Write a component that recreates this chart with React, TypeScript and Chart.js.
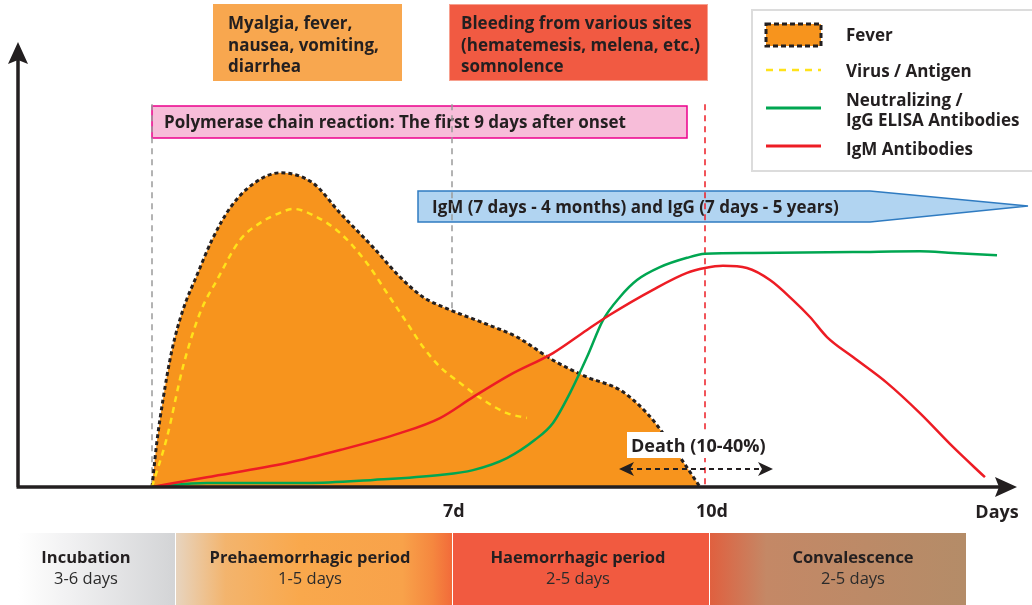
import React, { useEffect, useRef } from "react";
import { Chart, registerables } from "chart.js";

Chart.register(...registerables);

// ---------- DATA ----------
const feverDay = [3.443, 3.5, 3.573, 3.68, 3.81, 3.976, 4.154, 4.368, 4.628, 4.96, 5.352, 5.672, 6.063, 6.383, 6.656, 6.976, 7.368, 7.771, 8.198, 8.601, 8.992, 9.312, 9.502, 9.704, 9.941];
const feverLevel = [0, 10.0, 19.6, 30.8, 39.8, 47.6, 55.5, 62.7, 67.9, 70.6, 68.3, 61.6, 53.9, 47.2, 42.7, 39.8, 36.9, 33.7, 28.5, 24.7, 21.8, 16.6, 12.1, 6.7, 0];

const virusDay = [3.443, 3.621, 3.81, 4.012, 4.213, 4.486, 4.723, 4.96, 5.115, 5.352, 5.672, 5.992, 6.229, 6.466, 6.656, 6.858, 7.095, 7.368, 7.652, 7.889];
const virusLevel = [0, 11.2, 27.0, 39.1, 46.5, 55.5, 59.3, 61.6, 62.5, 61.1, 57.1, 50.3, 43.6, 36.9, 31.5, 27.0, 23.4, 19.6, 16.6, 15.5];

const iggDay = [3.443, 4.095, 5.281, 6.063, 6.858, 7.249, 7.652, 7.984, 8.198, 8.399, 8.601, 8.791, 8.992, 9.194, 9.466, 9.787, 10.0, 10.569, 11.755, 12.549, 12.941, 13.463];
const iggLevel = [0, 0.9, 0.9, 1.6, 2.7, 3.8, 6.5, 10.6, 14.4, 21.1, 29.2, 37.5, 42.7, 46.5, 49.4, 51.5, 52.4, 52.6, 52.8, 53.0, 52.6, 52.1];

const igmDay = [3.443, 4.095, 5.043, 5.672, 6.383, 6.858, 7.249, 7.688, 8.198, 8.601, 8.874, 9.383, 9.787, 10.0, 10.213, 10.498, 10.771, 11.044, 11.245, 11.447, 11.755, 12.158, 12.549, 12.941, 13.32];
const igmLevel = [0, 2.2, 5.4, 8.3, 12.1, 15.5, 20.2, 25.2, 30.1, 35.3, 38.7, 44.3, 48.1, 49.2, 49.7, 49.2, 46.5, 42.0, 38.2, 33.7, 29.2, 23.4, 16.6, 9.0, 2.2];

const seriesNames = ["Fever", "Virus / Antigen", "Neutralizing / IgG ELISA Antibodies", "IgM Antibodies"];
const legendLines = [["Fever"], ["Virus / Antigen"], ["Neutralizing /", "IgG ELISA Antibodies"], ["IgM Antibodies"]];

const tickDays = [7, 10];
const tickLabels = ["7d", "10d"];
const axisTitle = "Days";
const onsetDay = 3.443;
const grayMarkerDays = [onsetDay, 7];
const redMarkerDays = [10];

const symptomsEarly = ["Myalgia, fever,", "nausea, vomiting,", "diarrhea"];
const symptomsLate = ["Bleeding from various sites", "(hematemesis, melena, etc.)", "somnolence"];
const pcrText = "Polymerase chain reaction: The first 9 days after onset";
const bannerText = "IgM (7 days - 4 months) and IgG (7 days - 5 years)";
const deathText = "Death (10-40%)";

const phaseNames = ["Incubation", "Prehaemorrhagic period", "Haemorrhagic period", "Convalescence"];
const phaseDurations = ["3-6 days", "1-5 days", "2-5 days", "2-5 days"];

// ---------- STYLE ----------
const INK = "#231f20";
const ORANGE = "#f7941d";
const YELLOW = "#ffe21a";
const GREEN = "#00a651";
const RED = "#ed1c24";
const FONT = "'Open Sans', 'Noto Sans', sans-serif";

function txt(ctx: CanvasRenderingContext2D, s: string, x: number, y: number, size: number, weight: string | number = "bold", align: CanvasTextAlign = "left", color = INK) {
  ctx.font = `${weight} ${size}px ${FONT}`;
  ctx.fillStyle = color;
  ctx.textAlign = align;
  ctx.textBaseline = "alphabetic";
  ctx.fillText(s, x, y);
}

const pts = (xs: number[], ys: number[]) => xs.map((d, i) => ({ x: d, y: ys[i] }));

const diagramPlugin = {
  id: "diagram",
  beforeDraw(chart: any) {
    const ctx = chart.ctx as CanvasRenderingContext2D;
    ctx.save();
    ctx.fillStyle = "#ffffff";
    ctx.fillRect(0, 0, chart.width, chart.height);
    ctx.restore();
  },
  beforeDatasetsDraw(chart: any) {
    const ctx = chart.ctx as CanvasRenderingContext2D;
    const xs = chart.scales.x;
    const ys = chart.scales.y;
    const B = chart.chartArea.bottom;
    ctx.save();

    // symptom boxes
    ctx.fillStyle = "#f8a74f";
    ctx.fillRect(213, 4, 189, 77);
    symptomsEarly.forEach((s, i) => txt(ctx, s, 228, 29 + i * 21.5, 17));
    ctx.fillStyle = "#f15a42";
    ctx.fillRect(449, 4, 259, 77);
    ctx.strokeStyle = "#f7a08f";
    ctx.lineWidth = 1;
    ctx.strokeRect(449.5, 4.5, 258, 76);
    symptomsLate.forEach((s, i) => txt(ctx, s, 461, 29 + i * 21.5, 17));

    // PCR box
    ctx.fillStyle = "#f7bdd9";
    ctx.fillRect(152, 106, 535, 32);
    ctx.strokeStyle = "#ec008c";
    ctx.lineWidth = 1.5;
    ctx.strokeRect(152, 106, 535, 32);
    txt(ctx, pcrText, 164, 128, 17);

    // IgM / IgG banner
    ctx.beginPath();
    ctx.moveTo(418, 191);
    ctx.lineTo(870, 191);
    ctx.lineTo(1028, 206);
    ctx.lineTo(870, 222);
    ctx.lineTo(418, 222);
    ctx.closePath();
    ctx.fillStyle = "#b1d4f1";
    ctx.fill();
    ctx.strokeStyle = "#2f7bc1";
    ctx.lineWidth = 1.5;
    ctx.stroke();
    txt(ctx, bannerText, 432, 213, 17);

    // bottom phase band
    const top = 533, h = 72;
    const panels = [
      [18, 175, 86, [[0, "#ffffff"], [0.3, "#f2f2f3"], [1, "#d3d4d6"]]],
      [176, 452, 310, [[0, "#e7d4bf"], [0.18, "#f3b46d"], [0.45, "#f9a84c"], [0.82, "#f8a24a"], [0.93, "#f5873f"], [1, "#f26b3a"]]],
      [453, 709, 578, [[0, "#f15a40"], [1, "#f15a40"]]],
      [710, 966, 853, [[0, "#e0603f"], [0.22, "#c48866"], [1, "#b48c68"]]],
    ] as any[];
    panels.forEach(([a, b, cx, stops]: any, i: number) => {
      const g = ctx.createLinearGradient(a, 0, b, 0);
      stops.forEach(([o, c]: any) => g.addColorStop(o, c));
      ctx.fillStyle = g;
      ctx.fillRect(a, top, b - a, h);
      txt(ctx, phaseNames[i], cx, 563, 16.5, "bold", "center");
      txt(ctx, phaseDurations[i], cx, 584, 16.5, "normal", "center", "#2b2b2b");
    });

    // vertical markers
    const yTop = ys.getPixelForValue(86);
    ctx.lineWidth = 1.5;
    ctx.setLineDash([6, 5]);
    ctx.strokeStyle = "#9a9a9a";
    grayMarkerDays.forEach((d) => {
      const px = Math.round(xs.getPixelForValue(d));
      ctx.beginPath();
      ctx.moveTo(px, yTop);
      ctx.lineTo(px, B);
      ctx.stroke();
    });
    ctx.strokeStyle = RED;
    redMarkerDays.forEach((d) => {
      const px = Math.round(xs.getPixelForValue(d));
      ctx.beginPath();
      ctx.moveTo(px, yTop);
      ctx.lineTo(px, B);
      ctx.stroke();
    });
    ctx.setLineDash([]);
    ctx.restore();
  },
  afterDatasetsDraw(chart: any) {
    const ctx = chart.ctx as CanvasRenderingContext2D;
    const xs = chart.scales.x;
    const { left: L, bottom: B, top: T, right: R } = chart.chartArea;
    ctx.save();

    // axes
    ctx.strokeStyle = INK;
    ctx.fillStyle = INK;
    ctx.lineWidth = 3.5;
    ctx.beginPath();
    ctx.moveTo(L, B);
    ctx.lineTo(L, T + 18);
    ctx.moveTo(L - 1.5, B);
    ctx.lineTo(R - 18, B);
    ctx.stroke();
    ctx.beginPath();
    ctx.moveTo(L, T);
    ctx.lineTo(L + 10, T + 22);
    ctx.lineTo(L, T + 18);
    ctx.lineTo(L - 10, T + 22);
    ctx.closePath();
    ctx.fill();
    ctx.beginPath();
    ctx.moveTo(R, B);
    ctx.lineTo(R - 22, B - 10);
    ctx.lineTo(R - 18, B);
    ctx.lineTo(R - 22, B + 10);
    ctx.closePath();
    ctx.fill();

    // tick labels
    tickDays.forEach((d, i) => {
      txt(ctx, tickLabels[i], xs.getPixelForValue(d) - 9, 517, 18, "bold", "left");
    });
    txt(ctx, axisTitle, 997, 518, 18, "bold", "center");

    // death label + arrow
    ctx.fillStyle = "#ffffff";
    ctx.fillRect(627, 432, 142, 26);
    txt(ctx, deathText, 631, 452, 18, "bold", "left");
    ctx.strokeStyle = INK;
    ctx.lineWidth = 2;
    ctx.setLineDash([5, 4]);
    ctx.beginPath();
    ctx.moveTo(628, 469);
    ctx.lineTo(764, 469);
    ctx.stroke();
    ctx.setLineDash([]);
    ctx.fillStyle = INK;
    const head = (tip: number, dir: number) => {
      ctx.beginPath();
      ctx.moveTo(tip, 469);
      ctx.lineTo(tip + dir * 15, 462);
      ctx.lineTo(tip + dir * 11, 469);
      ctx.lineTo(tip + dir * 15, 476);
      ctx.closePath();
      ctx.fill();
    };
    head(619, 1);
    head(773, -1);

    // legend
    ctx.strokeStyle = "#dcdcdc";
    ctx.lineWidth = 2;
    ctx.fillStyle = "#ffffff";
    ctx.fillRect(752, 10, 290, 161);
    ctx.strokeRect(752, 10, 290, 161);

    ctx.fillStyle = ORANGE;
    ctx.fillRect(766, 24, 55, 22);
    ctx.strokeStyle = INK;
    ctx.lineWidth = 3;
    ctx.setLineDash([5, 3]);
    ctx.strokeRect(766, 24, 55, 22);

    ctx.strokeStyle = YELLOW;
    ctx.lineWidth = 2.5;
    ctx.setLineDash([7, 6]);
    ctx.beginPath();
    ctx.moveTo(766, 70);
    ctx.lineTo(821, 70);
    ctx.stroke();
    ctx.setLineDash([]);

    ctx.lineWidth = 3;
    ctx.strokeStyle = GREEN;
    ctx.beginPath();
    ctx.moveTo(766, 108);
    ctx.lineTo(821, 108);
    ctx.stroke();
    ctx.strokeStyle = RED;
    ctx.beginPath();
    ctx.moveTo(766, 146);
    ctx.lineTo(821, 146);
    ctx.stroke();

    const baselines = [[41], [77], [106, 126], [155]];
    legendLines.forEach((lines, i) => {
      lines.forEach((s, j) => txt(ctx, s, 846, baselines[i][j], 17));
    });
    ctx.restore();
  },
};

export default function App() {
  const ref = useRef<HTMLCanvasElement>(null);
  useEffect(() => {
    document.body.style.margin = "0";
    const common = { pointRadius: 0, pointHoverRadius: 0, cubicInterpolationMode: "monotone" as const };
    const chart = new Chart(ref.current as HTMLCanvasElement, {
      type: "line",
      data: {
        datasets: [
          { label: seriesNames[0], data: pts(feverDay, feverLevel), fill: "origin", backgroundColor: ORANGE, borderColor: INK, borderWidth: 3, borderDash: [4, 3], order: 4, ...common },
          { label: seriesNames[1], data: pts(virusDay, virusLevel), fill: false, borderColor: YELLOW, borderWidth: 2.5, borderDash: [6, 5], order: 3, ...common },
          { label: seriesNames[2], data: pts(iggDay, iggLevel), fill: false, borderColor: GREEN, borderWidth: 2.5, order: 2, ...common },
          { label: seriesNames[3], data: pts(igmDay, igmLevel), fill: false, borderColor: RED, borderWidth: 2.5, order: 1, ...common },
        ] as any,
      },
      options: {
        animation: false,
        responsive: false,
        devicePixelRatio: 1,
        layout: { padding: { left: 18, right: 15, top: 42, bottom: 118 } },
        scales: {
          x: { type: "linear", min: 1.854, max: 13.7, display: false },
          y: { type: "linear", min: 0, max: 100, display: false },
        },
        plugins: { legend: { display: false }, tooltip: { enabled: false } },
        events: [],
      },
      plugins: [diagramPlugin],
    });
    return () => chart.destroy();
  }, []);
  return (
    <div style={{ width: 1032, height: 605 }}>
      <canvas ref={ref} width={1032} height={605} style={{ display: "block" }} />
    </div>
  );
}
